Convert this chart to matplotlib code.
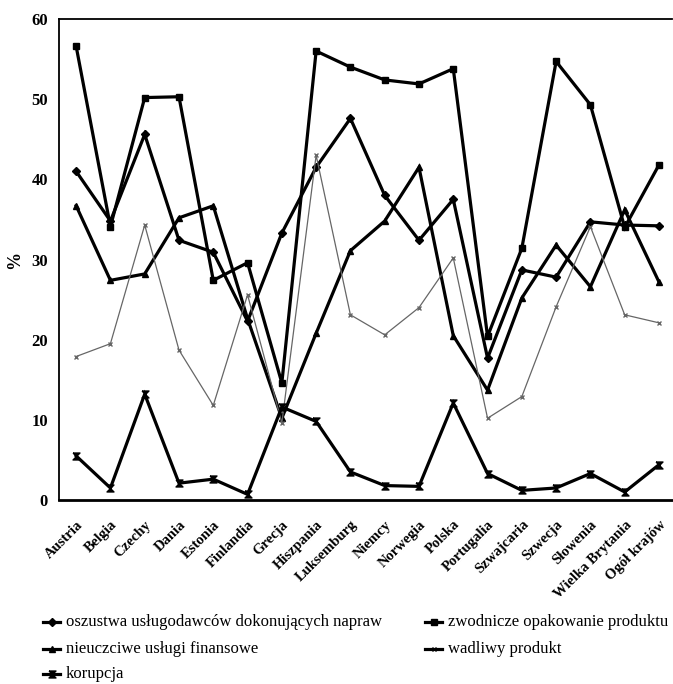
import matplotlib
matplotlib.use("Agg")
import matplotlib.pyplot as plt
from matplotlib.lines import Line2D

countries = ["Austria", "Belgia", "Czechy", "Dania", "Estonia", "Finlandia", "Grecja",
             "Hiszpania", "Luksemburg", "Niemcy", "Norwegia", "Polska", "Portugalia",
             "Szwajcaria", "Szwecja", "Słowenia", "Wielka Brytania", "Ogół krajów"]

oszustwa = [41.0, 34.8, 45.6, 32.4, 30.9, 22.3, 33.3, 41.5, 47.6, 38.0, 32.4, 37.5,
            17.7, 28.7, 27.8, 34.7, 34.3, 34.2]
zwodnicze = [56.6, 34.1, 50.2, 50.3, 27.4, 29.6, 14.6, 56.0, 54.0, 52.4, 51.9, 53.8,
             20.4, 31.4, 54.7, 49.3, 34.0, 41.8]
nieuczciwe = [36.7, 27.4, 28.2, 35.2, 36.7, 22.6, 10.2, 20.8, 31.1, 34.8, 41.5, 20.5,
              13.7, 25.2, 31.8, 26.6, 36.2, 27.2]
wadliwy = [17.9, 19.5, 34.3, 18.7, 11.8, 25.6, 9.6, 43.0, 23.1, 20.6, 24.0, 30.2,
           10.2, 12.9, 24.1, 34.1, 23.1, 22.1]
korupcja = [5.5, 1.5, 13.2, 2.1, 2.6, 0.7, 11.6, 9.8, 3.5, 1.8, 1.7, 12.1,
            3.3, 1.2, 1.5, 3.3, 1.0, 4.4]

labels = ["oszustwa usługodawców dokonujących napraw",
          "zwodnicze opakowanie produktu",
          "nieuczciwe usługi finansowe",
          "wadliwy produkt",
          "korupcja"]

plt.rcParams['font.family'] = ['Liberation Serif', 'DejaVu Serif']

W, H = 673, 684
fig = plt.figure(figsize=(W / 100, H / 100), dpi=100)
left, right, top, bottom = 59, 672, 19, 500
ax = fig.add_axes([left / W, 1 - bottom / H, (right - left) / W, (bottom - top) / H])

hourglass = [(-1, 1), (1, 1), (-1, -1), (1, -1), (-1, 1)]
x = list(range(len(countries)))

styles = [
    dict(data=oszustwa, color='black', lw=2.3, marker='D', ms=4.5),
    dict(data=zwodnicze, color='black', lw=2.3, marker='s', ms=5),
    dict(data=nieuczciwe, color='black', lw=2.3, marker='^', ms=5),
    dict(data=wadliwy, color='0.4', lw=0.9, marker='x', ms=3.5),
    dict(data=korupcja, color='black', lw=2.3, marker=hourglass, ms=5),
]

for st in styles:
    ax.plot(x, st['data'], color=st['color'], lw=st['lw'], marker=st['marker'],
            ms=st['ms'], mfc=st['color'], mec=st['color'], solid_joinstyle='miter')

ax.set_xlim(-0.5, 17.38)
ax.set_ylim(0, 60)
ax.set_yticks(range(0, 61, 10))
ax.set_xticks(x)
ax.set_xticklabels(countries, rotation=45, ha='right', rotation_mode='anchor',
                   fontsize=10.5, fontweight='bold')
ax.tick_params(axis='y', length=0, pad=8, labelsize=12)
ax.tick_params(axis='x', length=0, pad=13)
for lab in ax.get_yticklabels():
    lab.set_fontweight('bold')
for s in ax.spines.values():
    s.set_linewidth(1.3)
ax.spines['right'].set_visible(False)
ax.spines['bottom'].set_linewidth(2.0)
ax.set_ylabel('%', fontsize=13, fontweight='bold', labelpad=6)

# legend (manual, row-major like the original)
positions = [(43, 622), (425, 622), (43, 649), (425, 649), (43, 674)]
for st, lab, (px, py) in zip(styles, labels, positions):
    xs = [px / W, (px + 8.5) / W, (px + 17) / W]
    ys = [1 - py / H] * 3
    fig.add_artist(Line2D(xs, ys, transform=fig.transFigure, color='black', lw=2.3,
                          marker=st['marker'], ms=st['ms'], markevery=[1],
                          mfc='black', mec='black'))
    fig.text((px + 23) / W, 1 - py / H, lab, fontsize=12, va='center', ha='left')

fig.savefig('out.png', dpi=100)
